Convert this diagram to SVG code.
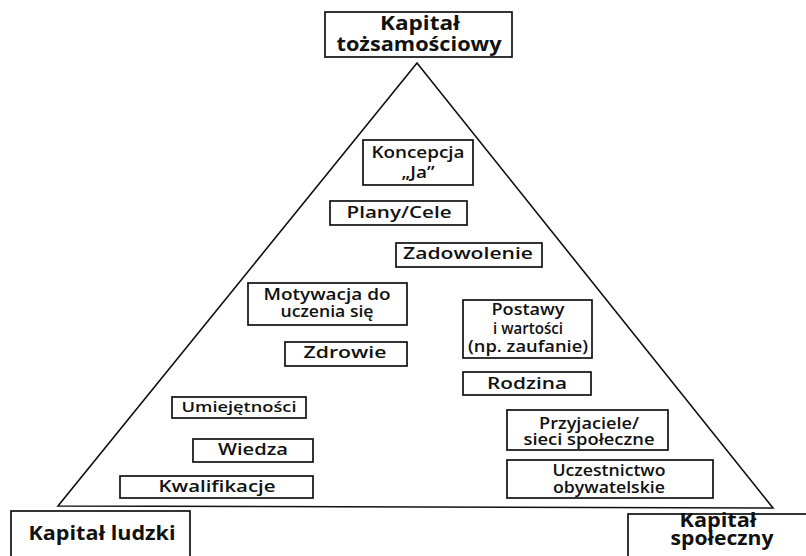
<svg xmlns="http://www.w3.org/2000/svg" width="806" height="556" viewBox="0 0 806 556">
<style>
.box{fill:#fff;stroke:#111;stroke-width:1.7}
.t{font-family:"Open Sans","Liberation Sans",sans-serif;font-size:16px;font-weight:600;fill:#111;text-anchor:middle}
.s{font-size:17px}
.b{font-family:"Open Sans","Liberation Sans",sans-serif;font-size:20px;font-weight:bold;fill:#111;text-anchor:middle}
.tri{fill:none;stroke:#111;stroke-width:1.6}
</style>
<rect width="806" height="556" fill="#fff"/>
<g id="connectors">
<polygon class="tri" points="417,63 58,506 773,508"/>
</g>
<g id="n-tozsamosciowy">
<rect class="box" x="325" y="12" width="187" height="45"/>
<text class="b" x="420" y="30" textLength="80" lengthAdjust="spacingAndGlyphs">Kapitał</text>
<text class="b" x="419" y="51" textLength="165" lengthAdjust="spacingAndGlyphs">tożsamościowy</text>
</g>
<g id="n-ludzki">
<rect class="box" x="11" y="511" width="179" height="46"/>
<text class="b" x="102" y="540" textLength="147" lengthAdjust="spacingAndGlyphs">Kapitał ludzki</text>
</g>
<g id="n-spoleczny">
<rect class="box" x="628" y="514" width="182" height="46"/>
<text class="b" x="718" y="527" textLength="77" lengthAdjust="spacingAndGlyphs">Kapitał</text>
<text class="b" x="722" y="545" textLength="103" lengthAdjust="spacingAndGlyphs">społeczny</text>
</g>
<g id="n-koncepcja">
<rect class="box" x="363" y="140" width="110" height="45"/>
<text class="t" x="418" y="158" textLength="93" lengthAdjust="spacingAndGlyphs">Koncepcja</text>
<text class="t" x="418" y="178" textLength="33" lengthAdjust="spacingAndGlyphs">„Ja”</text>
</g>
<g id="n-plany">
<rect class="box" x="330" y="201" width="137" height="24"/>
<text class="t s" x="399" y="218" textLength="105" lengthAdjust="spacingAndGlyphs">Plany/Cele</text>
</g>
<g id="n-zadowolenie">
<rect class="box" x="396" y="243" width="146" height="24"/>
<text class="t s" x="468" y="259" textLength="130" lengthAdjust="spacingAndGlyphs">Zadowolenie</text>
</g>
<g id="n-motywacja">
<rect class="box" x="248" y="283" width="159" height="42"/>
<text class="t" x="327" y="300" textLength="127" lengthAdjust="spacingAndGlyphs">Motywacja do</text>
<text class="t" x="327" y="317" textLength="93" lengthAdjust="spacingAndGlyphs">uczenia się</text>
</g>
<g id="n-zdrowie">
<rect class="box" x="285" y="342" width="122" height="24"/>
<text class="t s" x="345" y="358" textLength="83" lengthAdjust="spacingAndGlyphs">Zdrowie</text>
</g>
<g id="n-postawy">
<rect class="box" x="463" y="300" width="129" height="58"/>
<text class="t" x="528" y="315" textLength="73" lengthAdjust="spacingAndGlyphs">Postawy</text>
<text class="t" x="528" y="334" textLength="70" lengthAdjust="spacingAndGlyphs">i wartości</text>
<text class="t" x="528" y="352" textLength="120" lengthAdjust="spacingAndGlyphs">(np. zaufanie)</text>
</g>
<g id="n-rodzina">
<rect class="box" x="463" y="372" width="128" height="23"/>
<text class="t s" x="527" y="389" textLength="80" lengthAdjust="spacingAndGlyphs">Rodzina</text>
</g>
<g id="n-umiejetnosci">
<rect class="box" x="172" y="397" width="134" height="21"/>
<text class="t" x="239" y="412" style="font-size:15px" textLength="115" lengthAdjust="spacingAndGlyphs">Umiejętności</text>
</g>
<g id="n-wiedza">
<rect class="box" x="193" y="439" width="120" height="23"/>
<text class="t s" x="253" y="455" textLength="70" lengthAdjust="spacingAndGlyphs">Wiedza</text>
</g>
<g id="n-kwalifikacje">
<rect class="box" x="120" y="476" width="193" height="22"/>
<text class="t s" x="217" y="492" textLength="117" lengthAdjust="spacingAndGlyphs">Kwalifikacje</text>
</g>
<g id="n-przyjaciele">
<rect class="box" x="507" y="410" width="161" height="40"/>
<text class="t" x="589" y="429" textLength="100" lengthAdjust="spacingAndGlyphs">Przyjaciele/</text>
<text class="t" x="589" y="445" textLength="131" lengthAdjust="spacingAndGlyphs">sieci społeczne</text>
</g>
<g id="n-uczestnictwo">
<rect class="box" x="507" y="460" width="206" height="38"/>
<text class="t" x="609" y="476" textLength="113" lengthAdjust="spacingAndGlyphs">Uczestnictwo</text>
<text class="t" x="609" y="493" textLength="112" lengthAdjust="spacingAndGlyphs">obywatelskie</text>
</g>
</svg>
